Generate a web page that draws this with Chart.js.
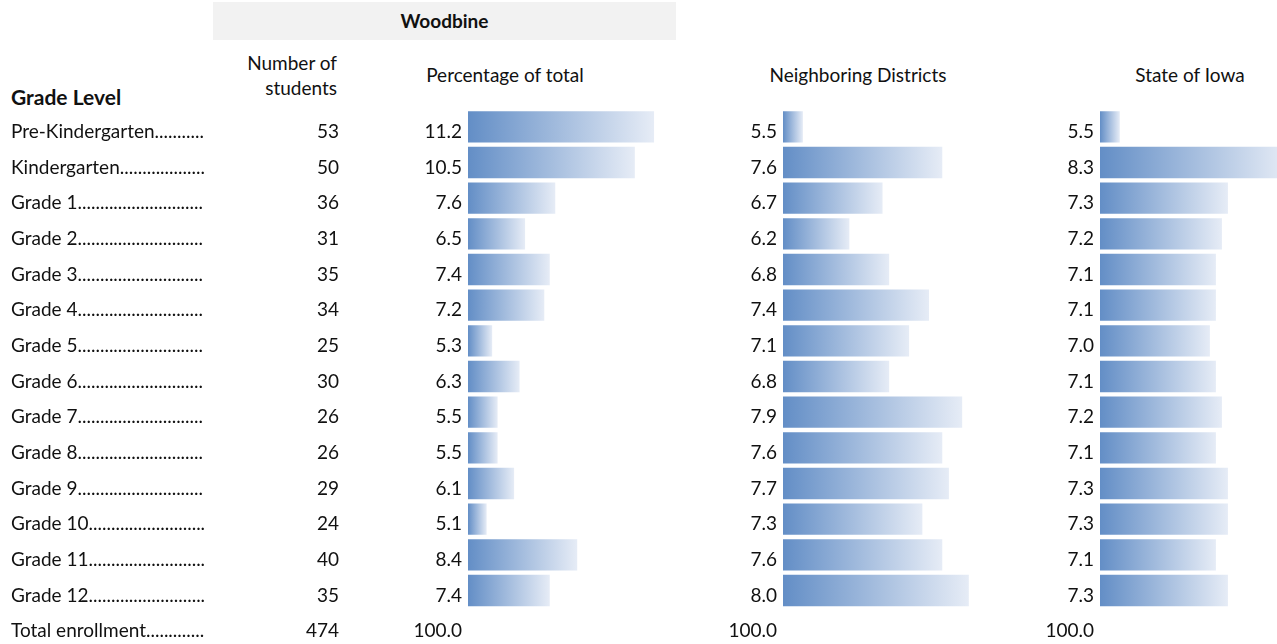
<!DOCTYPE html>
<html>
<head>
<meta charset="utf-8">
<script src="https://cdn.jsdelivr.net/npm/chart.js@4.4.1/dist/chart.umd.min.js"></script>
<style>
  html, body { margin: 0; padding: 0; width: 1277px; height: 644px; overflow: hidden; background: #fff; }
  body { position: relative; font-family: Lato, "Open Sans", sans-serif; font-size: 19px; color: #111; }
  .txt { position: absolute; white-space: nowrap; line-height: 24px; }
  .band { position: absolute; left: 213px; top: 2px; width: 463px; height: 38px; background: #f2f2f2; }
  .box { position: absolute; top: 109px; height: 535px; }
</style>
</head>
<body>
<div class="band"></div>
<div class="txt" style="left:213px;width:463px;top:9px;text-align:center;font-weight:bold">Woodbine</div>
<div class="txt" style="left:213px;width:124px;top:51px;text-align:right">Number of</div>
<div class="txt" style="left:213px;width:124px;top:76px;text-align:right">students</div>
<div class="txt" style="left:11px;top:85px;font-weight:bold;font-size:21px">Grade Level</div>
<div class="txt" style="left:405px;width:200px;top:63px;text-align:center">Percentage of total</div>
<div class="txt" style="left:758px;width:200px;top:63px;text-align:center">Neighboring Districts</div>
<div class="txt" style="left:1090px;width:200px;top:63px;text-align:center">State of Iowa</div>

<div class="box" style="left:0;width:676px"><canvas id="c1" width="676" height="535"></canvas></div>
<div class="box" style="left:676px;width:324px"><canvas id="c2" width="324" height="535"></canvas></div>
<div class="box" style="left:1000px;width:288px"><canvas id="c3" width="288" height="535"></canvas></div>

<script>
const gradeLevels = ['Pre-Kindergarten', 'Kindergarten', 'Grade 1', 'Grade 2', 'Grade 3', 'Grade 4',
  'Grade 5', 'Grade 6', 'Grade 7', 'Grade 8', 'Grade 9', 'Grade 10', 'Grade 11', 'Grade 12'];
const totalLabel = 'Total enrollment';
const studentCounts = [53, 50, 36, 31, 35, 34, 25, 30, 26, 26, 29, 24, 40, 35];
const totalStudents = 474;
const woodbinePct = [11.2, 10.5, 7.6, 6.5, 7.4, 7.2, 5.3, 6.3, 5.5, 5.5, 6.1, 5.1, 8.4, 7.4];
const neighboringPct = [5.5, 7.6, 6.7, 6.2, 6.8, 7.4, 7.1, 6.8, 7.9, 7.6, 7.7, 7.3, 7.6, 8.0];
const iowaPct = [5.5, 8.3, 7.3, 7.2, 7.1, 7.1, 7.0, 7.1, 7.2, 7.1, 7.3, 7.3, 7.1, 7.3];
const totalPct = '100.0';

const FONT_FAMILY = 'Lato, "Open Sans", sans-serif';
const FONT_SIZE = 19;
const BAR_DARK = '#638ec6';
const BAR_LIGHT = '#e6ecf6';

const rows = [...gradeLevels, totalLabel];

// dotted leaders out to the edge of the label column
const measure = document.createElement('canvas').getContext('2d');
measure.font = `${FONT_SIZE}px ${FONT_FAMILY}`;
const withLeaders = (label, maxWidth) => {
  let s = label;
  while (measure.measureText(s + '.').width <= maxWidth) s += '.';
  return s;
};

// each bar fades from blue to near white over its own length
const barFill = (c) => {
  if (c.type !== 'data' || c.raw == null) return BAR_DARK;
  const xs = c.chart.scales.x;
  if (!xs) return BAR_DARK;
  const x0 = xs.getPixelForValue(xs.min);
  const x1 = xs.getPixelForValue(c.raw);
  if (!isFinite(x0) || !isFinite(x1)) return BAR_DARK;
  const g = c.chart.ctx.createLinearGradient(x0, 0, Math.max(x1, x0 + 1), 0);
  g.addColorStop(0, BAR_DARK);
  g.addColorStop(1, BAR_LIGHT);
  return g;
};

const tickFont = { family: FONT_FAMILY, size: FONT_SIZE };

const labelAxis = (weight, width, extra) => Object.assign({
  type: 'category',
  axis: 'y',
  position: 'left',
  weight: weight,
  offset: true,
  grid: { display: false, drawTicks: false, tickLength: 0 },
  border: { display: false },
  afterFit: (scale) => {
    scale.width = width;
    scale.paddingTop = 0;
    scale.paddingBottom = 0;
  },
}, extra);

const valueAxis = (width, values) => labelAxis(1, width, {
  ticks: {
    autoSkip: false, padding: 6, labelOffset: 5, color: '#111', font: tickFont,
    callback: (v, i) => i < values.length ? values[i].toFixed(1) : totalPct,
  },
});

const makeChart = (id, values, xMin, xMax, valueWidth, extraAxes, padLeft) => new Chart(document.getElementById(id), {
  type: 'bar',
  data: {
    labels: rows,
    datasets: [{
      data: [...values, null],
      backgroundColor: barFill,
      borderWidth: 0,
      barPercentage: 0.88,
      categoryPercentage: 1,
    }],
  },
  options: {
    indexAxis: 'y',
    responsive: false,
    animation: false,
    events: [],
    layout: { padding: { left: padLeft, right: 0, top: 0, bottom: 0 } },
    plugins: { legend: { display: false }, tooltip: { enabled: false } },
    scales: Object.assign({
      x: { type: 'linear', display: false, min: xMin, max: xMax },
      y: valueAxis(valueWidth, values),
    }, extraAxes),
  },
});

makeChart('c1', woodbinePct, 4.42, 12.0, 123, {
  yNum: labelAxis(2, 132, {
    labels: rows,
    ticks: {
      autoSkip: false, padding: 6, labelOffset: 5, color: '#111', font: tickFont,
      callback: (v, i) => i < studentCounts.length ? String(studentCounts[i]) : String(totalStudents),
    },
  }),
  yGrade: labelAxis(3, 202, {
    labels: rows,
    ticks: {
      autoSkip: false, padding: 0, labelOffset: 5, crossAlign: 'far', color: '#111', font: tickFont,
      callback: (v, i) => withLeaders(rows[i], 195),
    },
  }),
}, 11);

makeChart('c2', neighboringPct, 5.2, 8.47, 107, {}, 0);
makeChart('c3', iowaPct, 5.17, 8.3, 100, {}, 0);
</script>
</body>
</html>
